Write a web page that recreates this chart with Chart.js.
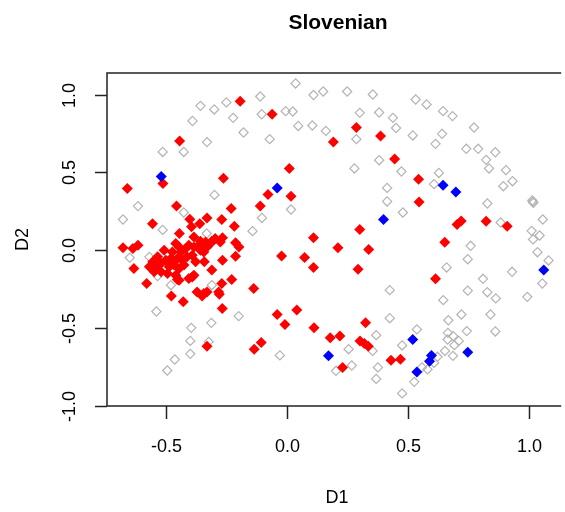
<!DOCTYPE html>
<html>
<head>
<meta charset="utf-8">
<script src="https://cdn.jsdelivr.net/npm/chart.js@4.4.1/dist/chart.umd.min.js"></script>
<style>
  html, body { margin: 0; padding: 0; background: #fff; overflow: hidden; }
  #wrap { width: 565px; height: 512px; }
</style>
</head>
<body>
<div id="wrap"><canvas id="chart" width="565" height="512"></canvas></div>
<script>
// grey hollow diamonds (other points)
const grayX = [-0.359,-0.302,-0.252,-0.392,-0.224,-0.181,-0.332,-0.428,-0.515,0.034,-0.112,0.108,0.148,0.247,0.353,-0.106,-0.007,0.022,0.299,0.379,0.436,0.449,0.045,0.103,0.159,-0.073,0.285,0.379,0.277,0.471,0.530,0.575,0.643,0.682,0.771,0.518,0.639,0.612,0.739,0.788,0.859,0.821,0.833,0.903,0.930,0.626,0.606,0.892,0.826,1.014,1.012,1.016,0.477,0.881,1.055,1.009,1.042,1.015,0.757,1.033,0.745,1.079,0.658,0.928,0.808,1.053,0.745,0.826,0.861,0.991,0.644,0.719,0.839,0.665,0.535,0.741,0.859,0.663,0.685,0.662,0.708,0.690,0.474,0.651,0.684,0.620,0.606,0.579,0.556,0.524,0.474,0.423,0.423,0.367,0.253,0.352,-0.031,0.266,0.201,0.374,0.367,0.015,-0.105,-0.144,0.412,0.412,-0.301,-0.617,-0.428,-0.679,-0.515,-0.333,-0.651,-0.570,-0.536,-0.481,-0.312,-0.541,-0.201,-0.314,-0.397,-0.401,-0.325,-0.401,-0.465,-0.496];
const grayY = [0.928,0.905,0.950,0.831,0.851,0.757,0.695,0.632,0.632,1.072,0.988,0.998,1.020,1.020,1.001,0.874,0.894,0.892,0.883,0.885,0.851,0.786,0.799,0.802,0.767,0.714,0.714,0.579,0.526,0.506,0.969,0.937,0.894,0.862,0.789,0.738,0.748,0.684,0.652,0.652,0.630,0.581,0.526,0.515,0.444,0.497,0.425,0.412,0.301,0.311,0.320,0.305,0.243,0.179,0.198,0.125,0.095,0.070,0.029,-0.012,-0.057,-0.065,-0.110,-0.138,-0.183,-0.213,-0.259,-0.269,-0.309,-0.299,-0.320,-0.412,-0.412,-0.449,-0.508,-0.519,-0.521,-0.530,-0.551,-0.573,-0.582,-0.609,-0.611,-0.646,-0.678,-0.684,-0.723,-0.765,-0.752,-0.845,-0.919,-0.256,-0.436,-0.545,-0.635,-0.646,-0.675,-0.740,-0.774,-0.752,-0.826,0.262,0.208,0.123,0.401,0.314,0.356,0.284,0.243,0.198,0.131,0.108,-0.048,-0.042,-0.166,-0.224,-0.224,-0.393,-0.423,-0.466,-0.498,-0.582,-0.588,-0.665,-0.701,-0.772];

// red filled diamonds
const redX = [-0.195,-0.445,-0.264,-0.514,-0.661,-0.063,0.285,0.385,0.190,0.443,0.008,0.542,0.544,0.701,0.718,0.821,0.908,0.650,0.612,-0.080,0.015,-0.112,0.299,0.108,0.209,0.336,-0.024,0.071,0.108,0.292,-0.139,0.039,-0.042,-0.010,0.110,0.323,0.177,0.217,0.300,0.318,0.334,-0.108,-0.137,0.428,0.467,0.228,-0.332,-0.479,-0.430,-0.269,-0.281,-0.373,-0.345,-0.332,-0.352,-0.458,-0.232,-0.557,-0.403,-0.396,-0.362,-0.332,-0.271,-0.219,-0.446,-0.386,-0.268,-0.312,-0.338,-0.359,-0.214,-0.200,-0.679,-0.638,-0.617,-0.509,-0.345,-0.343,-0.214,-0.268,-0.634,-0.312,-0.393,-0.407,-0.454,-0.581,-0.230,-0.271,-0.284,-0.461,-0.447,-0.475,-0.440,-0.420,-0.407,-0.386,-0.366,-0.359,-0.332,-0.318,-0.298,-0.277,-0.536,-0.556,-0.570,-0.542,-0.522,-0.502,-0.481,-0.454,-0.434,-0.414,-0.393,-0.379,-0.488,-0.468,-0.447,-0.427,-0.550,-0.522,-0.495,-0.461,-0.447,-0.386];
const redY = [0.958,0.703,0.463,0.429,0.397,0.874,0.789,0.735,0.695,0.587,0.526,0.457,0.311,0.166,0.189,0.187,0.155,0.052,-0.183,0.359,0.348,0.284,0.134,0.080,0.016,0.005,-0.036,-0.046,-0.110,-0.121,-0.245,-0.384,-0.412,-0.476,-0.498,-0.466,-0.562,-0.551,-0.582,-0.598,-0.616,-0.592,-0.635,-0.706,-0.699,-0.752,-0.616,-0.294,-0.331,-0.373,-0.282,-0.267,-0.277,-0.267,-0.294,0.284,0.269,0.170,0.200,0.151,0.170,0.208,0.198,0.155,0.108,0.086,0.080,0.059,0.054,0.059,0.048,0.022,0.016,0.012,0.033,0.001,-0.010,-0.074,-0.038,-0.063,-0.117,-0.127,-0.171,-0.181,-0.187,-0.213,-0.187,-0.213,-0.267,0.044,0.022,-0.010,-0.010,0.012,0.033,0.022,0.033,0.001,0.022,0.044,0.076,0.054,-0.042,-0.074,-0.106,-0.106,-0.085,-0.063,-0.052,-0.052,-0.063,-0.042,-0.031,-0.074,-0.106,-0.095,-0.117,-0.095,-0.138,-0.138,-0.149,-0.160,-0.192,-0.160];

// blue filled diamonds
const blueX = [-0.521,-0.042,0.397,0.643,0.696,1.059,0.170,0.518,0.745,0.595,0.587,0.535];
const blueY = [0.474,0.401,0.198,0.418,0.375,-0.127,-0.678,-0.573,-0.654,-0.675,-0.712,-0.781];

const xTicks = [-0.5, 0.0, 0.5, 1.0];
const yTicks = [-1.0, -0.5, 0.0, 0.5, 1.0];
const xTickLabels = ["-0.5", "0.0", "0.5", "1.0"];
const yTickLabels = ["-1.0", "-0.5", "0.0", "0.5", "1.0"];

const toPoints = (xs, ys) => xs.map((x, i) => ({ x, y: ys[i] }));

// R-style box, ticks and labels drawn off the chart's own scales
const rAxes = {
    id: "rAxes",
    afterDraw(chart) {
        const { ctx, chartArea: a, scales: { x, y } } = chart;
        ctx.save();
        ctx.strokeStyle = "#222";
        ctx.lineWidth = 1.5;
        ctx.beginPath();
        ctx.moveTo(a.right + 2, a.top);
        ctx.lineTo(a.left, a.top);
        ctx.lineTo(a.left, a.bottom);
        ctx.lineTo(a.right + 2, a.bottom);
        ctx.stroke();

        ctx.fillStyle = "#000";
        ctx.font = "18px 'Liberation Sans', Arial, sans-serif";
        ctx.textAlign = "center";
        ctx.textBaseline = "middle";
        xTicks.forEach((v, i) => {
            const px = Math.round(x.getPixelForValue(v)) + 0.5;
            ctx.beginPath();
            ctx.moveTo(px, a.bottom);
            ctx.lineTo(px, a.bottom + 13);
            ctx.stroke();
            ctx.fillText(xTickLabels[i], px, 447);
        });
        yTicks.forEach((v, i) => {
            const py = Math.round(y.getPixelForValue(v)) + 0.5;
            ctx.beginPath();
            ctx.moveTo(a.left, py);
            ctx.lineTo(a.left - 12, py);
            ctx.stroke();
            ctx.save();
            ctx.translate(70, py);
            ctx.rotate(-Math.PI / 2);
            ctx.fillText(yTickLabels[i], 0, 0);
            ctx.restore();
        });

        ctx.fillText("D1", 337, 498);
        ctx.save();
        ctx.translate(23, (a.top + a.bottom) / 2);
        ctx.rotate(-Math.PI / 2);
        ctx.fillText("D2", 0, 0);
        ctx.restore();

        ctx.font = "bold 21px 'Liberation Sans', Arial, sans-serif";
        ctx.fillText("Slovenian", 338, 23);
        ctx.restore();
    },
};

new Chart(document.getElementById("chart"), {
    type: "scatter",
    data: {
        datasets: [
            {
                label: "other",
                data: toPoints(grayX, grayY),
                pointStyle: "rectRot",
                pointRadius: 4.6,
                backgroundColor: "rgba(0,0,0,0)",
                borderColor: "#B4B4B4",
                borderWidth: 1.2,
                order: 3,
            },
            {
                label: "red",
                data: toPoints(redX, redY),
                pointStyle: "rectRot",
                pointRadius: 5.5,
                backgroundColor: "#FF0000",
                borderWidth: 0,
                order: 2,
            },
            {
                label: "blue",
                data: toPoints(blueX, blueY),
                pointStyle: "rectRot",
                pointRadius: 5.5,
                backgroundColor: "#0000FF",
                borderWidth: 0,
                order: 1,
            },
        ],
    },
    options: {
        responsive: false,
        animation: false,
        events: [],
        layout: { padding: { left: 107, right: 0, top: 73, bottom: 106 } },
        plugins: { legend: { display: false }, tooltip: { enabled: false } },
        scales: {
            x: { type: "linear", min: -0.745, max: 1.1228, display: false },
            y: { type: "linear", min: -1.0, max: 1.139, display: false },
        },
    },
    plugins: [rAxes],
});
</script>
</body>
</html>
